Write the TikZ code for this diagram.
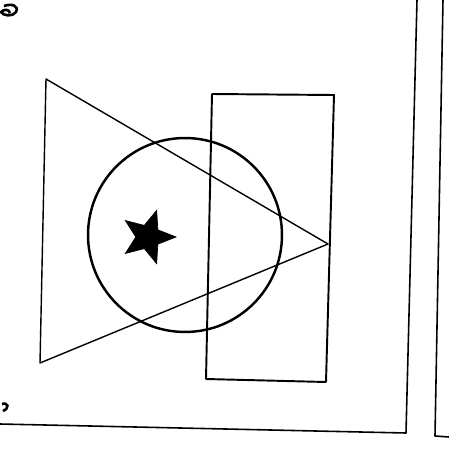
\documentclass[tikz,border=0pt]{standalone}
\usepackage{tikz}
\usetikzlibrary{shapes.geometric}
\tikzset{
    outline/.style={draw, line width=1.1pt, line join=round},
    thin outline/.style={draw, line width=0.8pt, line join=round},
    ring/.style={circle, draw, line width=1.4pt, minimum size=3.88cm, inner sep=0pt},
    blot/.style={star, star points=5, star point ratio=2.3, shape border rotate=-90,
        fill=black, draw=black, minimum size=1.12cm, inner sep=0pt}
}

\begin{document}
\begin{tikzpicture}[x=0.02cm, y=-0.02cm]
    \useasboundingbox (0,0) rectangle (449,450);

    % frame
    \coordinate (fl) at (0,424);
    \coordinate (fb) at (406,433);
    \coordinate (ft) at (417,0);
    \coordinate (gb) at (435,436);
    \coordinate (gt) at (443,0);
    \coordinate (gr) at (449,437);
    \draw[outline, line width=0.9pt] (fl) -- (fb) -- (ft);
    \draw[outline, line width=0.9pt] (gt) -- (gb) -- (gr);

    % triangle
    \coordinate (t1) at (46,79);
    \coordinate (t2) at (40,363);
    \coordinate (t3) at (328,244);
    \draw[thin outline] (t1) -- (t2) -- (t3) -- cycle;

    % box
    \coordinate (b1) at (212,94);
    \coordinate (b2) at (334,95);
    \coordinate (b3) at (326,382);
    \coordinate (b4) at (206,379);
    \draw[outline] (b1) -- (b2) -- (b3) -- (b4) -- cycle;

    % circle and star
    \node[ring] (disc) at (185,235) {};
    \node[blot] (mark) at (148,237) {};

    % scan marks
    \draw[line width=1.5pt] (4,6) .. controls (12,3) and (19,6) .. (16,12)
        .. controls (13,17) and (3,16) .. (1,12) .. controls (4,9) and (9,9) .. (10,13);
    \draw[line width=1.5pt] (2,404) .. controls (8,402) and (10,408) .. (3,411);
\end{tikzpicture}
\end{document}
